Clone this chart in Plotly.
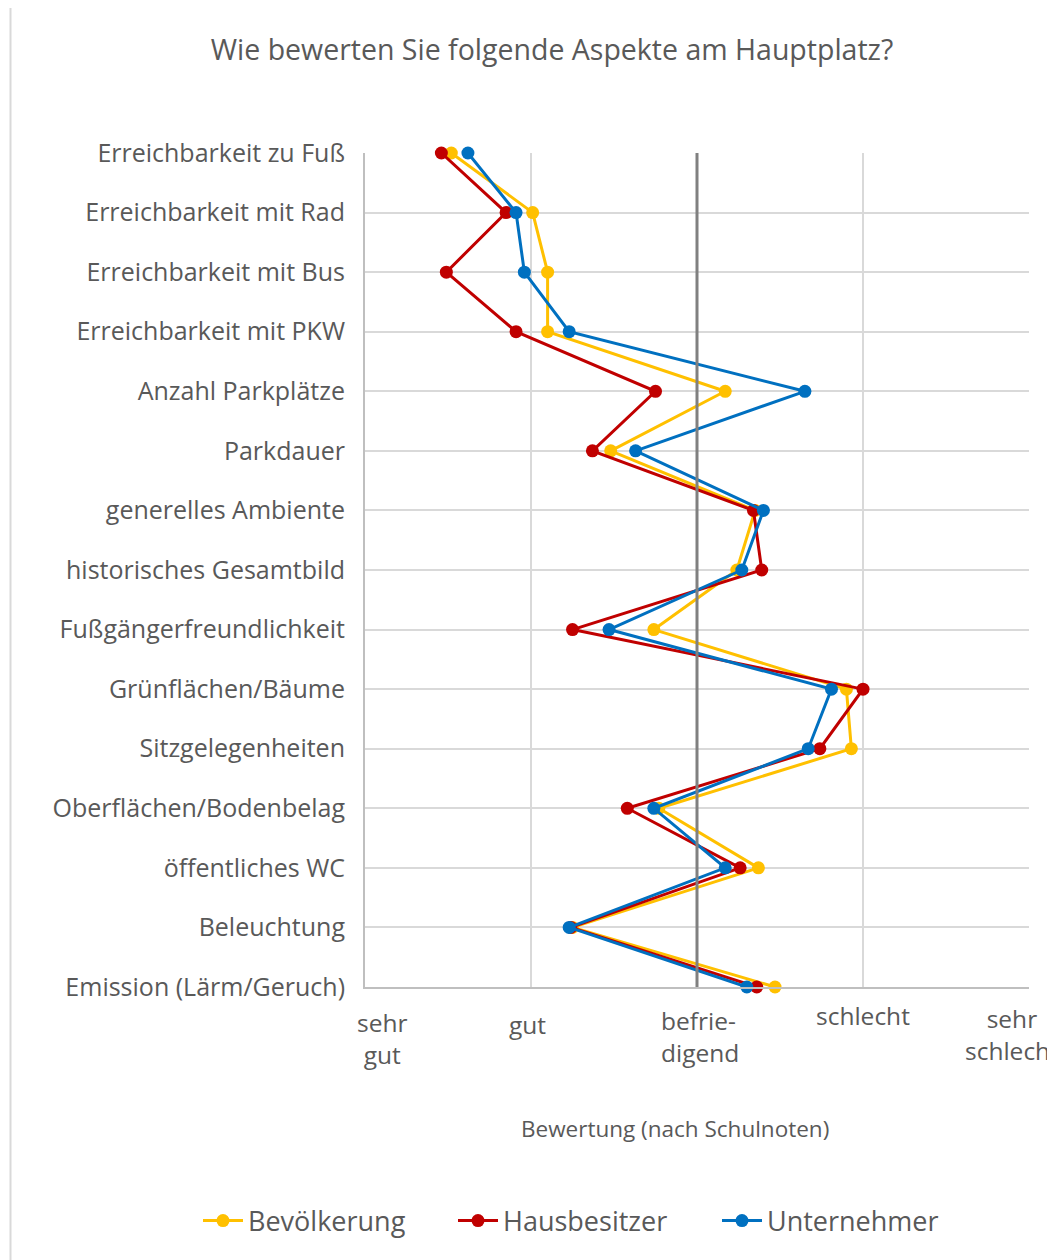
import plotly.graph_objects as go

categories = [
    "Erreichbarkeit zu Fuß", "Erreichbarkeit mit Rad", "Erreichbarkeit mit Bus",
    "Erreichbarkeit mit PKW", "Anzahl Parkplätze", "Parkdauer", "generelles Ambiente",
    "historisches Gesamtbild", "Fußgängerfreundlichkeit", "Grünflächen/Bäume",
    "Sitzgelegenheiten", "Oberflächen/Bodenbelag", "öffentliches WC", "Beleuchtung",
    "Emission (Lärm/Geruch)",
]
bevoelkerung = [1.52, 2.01, 2.10, 2.10, 3.17, 2.48, 3.35, 3.24, 2.74, 3.90, 3.93, 2.77, 3.37, 2.25, 3.47]
hausbesitzer = [1.46, 1.85, 1.49, 1.91, 2.75, 2.37, 3.34, 3.39, 2.25, 4.00, 3.74, 2.58, 3.26, 2.24, 3.36]
unternehmer = [1.62, 1.91, 1.96, 2.23, 3.65, 2.63, 3.40, 3.27, 2.47, 3.81, 3.67, 2.74, 3.17, 2.23, 3.30]

grade_vals = [1, 2, 3, 4, 5]
grade_labels = ["sehr<br>gut", "gut", "befrie-<br>digend", "schlecht", "sehr<br>schlecht"]
label_x = [1.10, 1.98, 3.02, 4.00, 4.90]
label_shift = [-17, -19, -15, -10, -13]

series = [
    ("Bevölkerung", bevoelkerung, "#FFC000"),
    ("Hausbesitzer", hausbesitzer, "#C00000"),
    ("Unternehmer", unternehmer, "#0070C0"),
]
legend_text_start = [248, 503, 767]

FONT = "Open Sans"
TXT = "#595959"

# the page body has an 8px margin; work in page pixels and subtract it
OFF = 8
W, H = 1055 - OFF, 1260 - OFF
L, T = 365 - OFF, 153 - OFF
PW, PH = 664, 834


def px_x(p):
    return (p - OFF - L) / PW


def px_y(p):
    return (T + PH - (p - OFF)) / PH


ypos = list(range(len(categories)))

fig = go.Figure()
legend_names = ["legend", "legend2", "legend3"]
for (name, vals, col), lg in zip(series, legend_names):
    fig.add_trace(go.Scatter(
        x=vals, y=ypos, name=name, mode="lines+markers",
        line=dict(color=col, width=3),
        marker=dict(color=col, size=13),
        cliponaxis=False, legend=lg,
    ))

legend_common = dict(orientation="h", xanchor="left", yanchor="middle",
                     font=dict(family=FONT, size=27, color=TXT),
                     bgcolor="rgba(0,0,0,0)", itemwidth=40)

fig.update_layout(
    width=W, height=H,
    margin=dict(l=L, r=W - L - PW, t=T, b=H - T - PH),
    paper_bgcolor="white", plot_bgcolor="white",
    font=dict(family=FONT, color=TXT),
    title=dict(text="Wie bewerten Sie folgende Aspekte am Hauptplatz?",
               x=(552 - OFF) / W, xref="container", xanchor="center",
               y=1 - (50 - OFF) / H, yref="container", yanchor="middle",
               font=dict(family=FONT, size=28.5, color=TXT)),
    showlegend=True,
    legend=dict(x=px_x(legend_text_start[0] - 50), y=px_y(1221), **legend_common),
    legend2=dict(x=px_x(legend_text_start[1] - 50), y=px_y(1221), **legend_common),
    legend3=dict(x=px_x(legend_text_start[2] - 50), y=px_y(1221), **legend_common),
    xaxis=dict(range=[1, 5], tickvals=grade_vals, showticklabels=False,
               showgrid=True, gridcolor="#d9d9d9", gridwidth=2,
               zeroline=False, showline=True, linecolor="#bfbfbf", linewidth=2,
               fixedrange=True),
    yaxis=dict(range=[len(categories) - 1, 0], tickvals=ypos, ticktext=categories,
               showgrid=True, gridcolor="#d9d9d9", gridwidth=2,
               zeroline=False, showline=True, linecolor="#bfbfbf", linewidth=2,
               ticks="outside", ticklen=13, tickcolor="rgba(0,0,0,0)",
               tickfont=dict(family=FONT, size=25, color=TXT), fixedrange=True),
)

# darker reference line at "befriedigend", drawn over the series
fig.add_shape(type="line", xref="x", yref="paper", x0=3, x1=3, y0=0, y1=1,
              line=dict(color="#808080", width=3), layer="above")

# chart border
fig.add_shape(type="rect", xref="paper", yref="paper",
              x0=px_x(10.5), x1=px_x(1100),
              y0=px_y(1300), y1=px_y(6),
              line=dict(color="#d9d9d9", width=2), fillcolor="rgba(0,0,0,0)", layer="below")

for lx, lab, sh in zip(label_x, grade_labels, label_shift):
    fig.add_annotation(x=lx, y=0, xref="x", yref="paper", text=lab, showarrow=False,
                       xanchor="center", yanchor="top", yshift=sh,
                       align="left" if "befrie" in lab else "center",
                       font=dict(family=FONT, size=24.5, color=TXT))

fig.add_annotation(x=px_x(675), y=px_y(1128), xref="paper", yref="paper",
                   text="Bewertung (nach Schulnoten)", showarrow=False,
                   xanchor="center", yanchor="middle",
                   font=dict(family=FONT, size=22.5, color=TXT))

fig.write_html("out.html")
